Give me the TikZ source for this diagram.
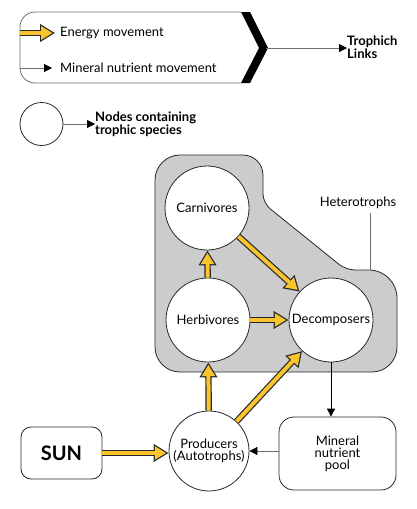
\documentclass[tikz,border=0pt]{standalone}
\usepackage{fontspec}
\setmainfont{Lato}
\usetikzlibrary{arrows.meta}
\definecolor{gold}{RGB}{250,196,46}
\definecolor{regfill}{RGB}{204,204,204}
\definecolor{edge}{RGB}{40,40,40}
\definecolor{lgray}{RGB}{110,110,110}
\tikzset{
  lbl/.style={font=\fontsize{13}{12}\selectfont, inner sep=0, align=left},
  blbl/.style={font=\bfseries\fontsize{13}{11.5}\selectfont, inner sep=0, align=left},
  sp/.style={circle, draw=edge, line width=0.8pt, fill=white, minimum size=#1, inner sep=0,
    font=\fontsize{13}{12}\selectfont, align=center},
  sp/.default=84pt,
  rbox/.style={draw=edge, line width=0.8pt, fill=white, rounded corners=#1, inner sep=0, align=center},
  yout/.style={line width=6.4pt, draw=edge, -{Triangle[length=15pt,width=17pt]}},
  yin/.style={line width=4pt, draw=gold, -{Triangle[length=11.4pt,width=12.9pt]}, shorten >=2.4pt},
  thinarr/.style={line width=0.8pt, draw=#1, -{Triangle[length=8pt,width=8pt,fill=black,color=black]}},
  thinarr/.default=black
}
\newcommand\yarr[2]{\draw[yout] (#1) -- (#2); \draw[yin] (#1) -- (#2);}
\begin{document}
\begin{tikzpicture}[x=1pt,y=-1pt]
\useasboundingbox (0,0) rectangle (416,509);

% legend box
\draw[lgray, line width=0.8pt] (241,12) [rounded corners=15pt] -- (20,12) -- (20,83) [sharp corners] -- (241,83);
\fill[black] (241,12) -- (250,12) -- (268,48) -- (250,83) -- (241,83) -- (259,48) -- cycle;
\coordinate (chev) at (266,48);
\coordinate (e0) at (20,33);
\coordinate (e1) at (55,33);
\coordinate (m0) at (20,68);
\coordinate (m1) at (52,68);
\yarr{e0}{e1}
\draw[thinarr=lgray] (m0) -- (m1);
\node[lbl, anchor=west] (etxt) at (60,33) {Energy movement};
\node[lbl, anchor=west] (mtxt) at (60,68) {Mineral nutrient movement};
\node[blbl, anchor=west] (links) at (347,47) {Trophich\\Links};
\draw[thinarr=lgray] (chev) -- (chev -| links.west);

% legend circle
\node[sp=43pt] (lc) at (41.5,124) {};
\node[blbl, anchor=west] (ntxt) at (95,124) {Nodes containing\\trophic species};
\draw[thinarr=lgray] (lc.east) -- (lc.east -| ntxt.west);

% heterotrophs region
\draw[draw=edge, line width=0.8pt, fill=regfill]
  (155,200) [rounded corners=25pt] -- (155,155) [rounded corners=20pt] -- (263,155)
  [rounded corners=9pt] -- (263,203) [rounded corners=9pt] -- (346,270)
  [rounded corners=28pt] -- (397,270) [rounded corners=25pt] -- (397,372)
  [rounded corners=25pt] -- (155,372) [sharp corners] -- (155,200);
\node[lbl] (het) at (358,203) {Heterotrophs};
\coordinate (hl0) at (370,213);
\coordinate (hl1) at (370,270);
\draw[lgray, line width=0.8pt] (hl0) -- (hl1);

% species nodes
\node[sp] (carn) at (207,208) {Carnivores};
\node[sp] (herb) at (208,320) {Herbivores};
\node[sp] (dec) at (331,320) {Decomposers};
\node[sp=80pt] (prod) at (209,451) {Producers\\(Autotrophs)};
\node[rbox=10pt, minimum width=81pt, minimum height=52pt, font=\bfseries\fontsize{20}{20}\selectfont] (sun) at (61.5,453) {SUN};
\node[rbox=15pt, minimum width=117pt, minimum height=73pt, font=\fontsize{13}{12}\selectfont] (pool) at (337.5,453.5) {Mineral\\nutrient\\pool};

% energy arrows
\yarr{sun.east}{sun.east -| prod.west}
\yarr{prod}{herb}
\yarr{herb}{carn}
\yarr{herb}{dec}
\yarr{carn}{dec}
\yarr{prod}{dec}

% nutrient arrows
\draw[thinarr] (dec) -- (dec |- pool.north);
\draw[thinarr=lgray] (pool.west |- prod.east) -- (prod.east);
\end{tikzpicture}
\end{document}
